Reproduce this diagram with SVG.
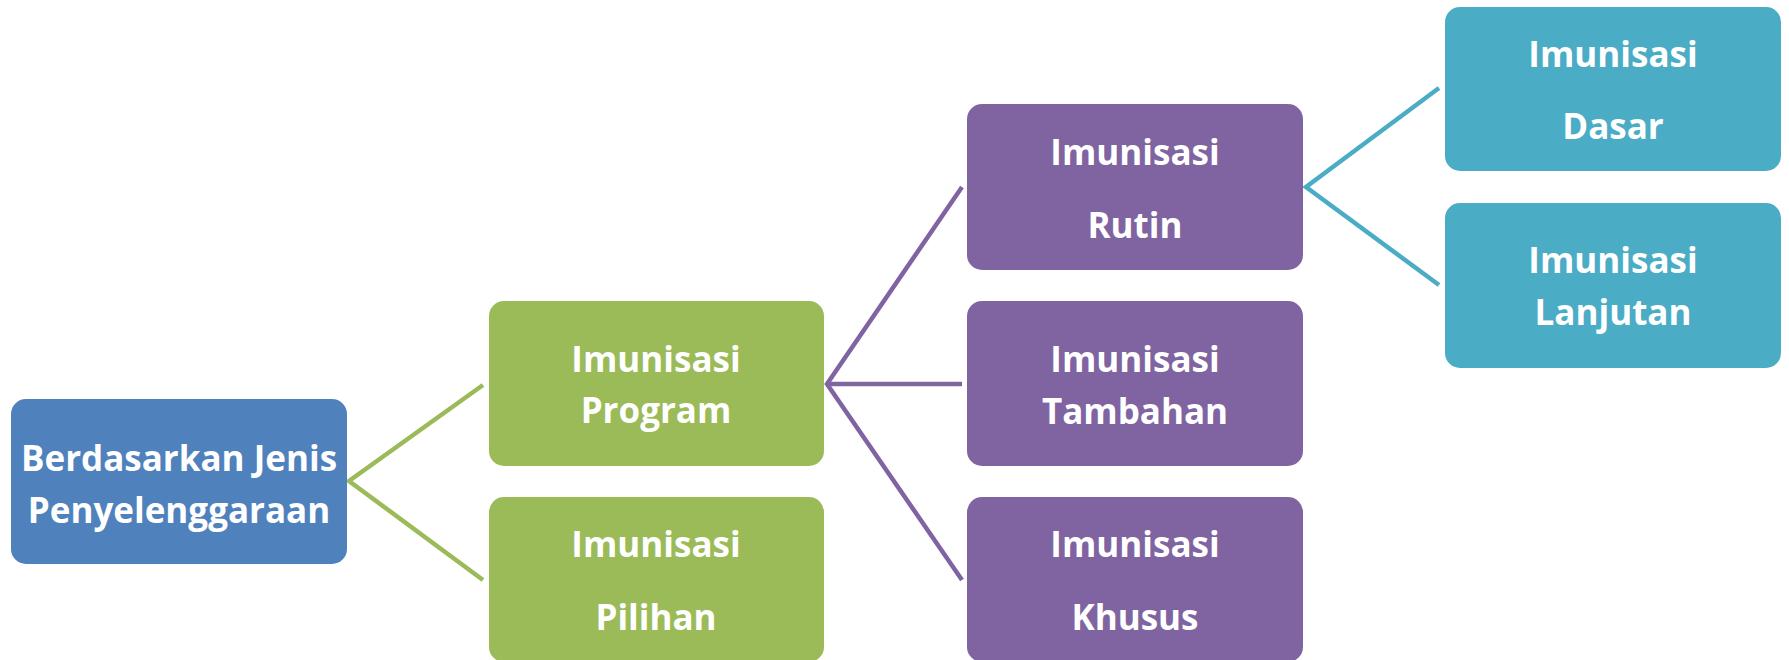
<svg xmlns="http://www.w3.org/2000/svg" width="1789" height="660" viewBox="0 0 1789 660">
<style>
.t{font-family:"Open Sans","Liberation Sans",sans-serif;font-weight:bold;font-size:35px;fill:#fff;text-anchor:middle}
.c{fill:none;stroke-width:4.5;stroke-linejoin:miter}
</style>
<rect width="1789" height="660" fill="#fff"/>
<g id="connectors">
<polyline class="c" stroke="#9BBB59" points="483,385 349,481 483,580"/>
<polyline class="c" stroke="#8064A2" points="962,187 827,384 962,580"/>
<line class="c" stroke="#8064A2" x1="827" y1="384" x2="962" y2="384"/>
<polyline class="c" stroke="#4BACC6" points="1439,88 1306,187 1439,285"/>
</g>
<g id="root">
<rect x="11" y="399" width="336" height="165" rx="15" fill="#4F81BD"/>
<text class="t" x="179" y="471">Berdasarkan Jenis</text>
<text class="t" x="179" y="523">Penyelenggaraan</text>
</g>
<g id="program">
<rect x="489" y="301" width="335" height="165" rx="15" fill="#9BBB59"/>
<text class="t" x="656" y="372">Imunisasi</text>
<text class="t" x="656" y="423">Program</text>
</g>
<g id="pilihan">
<rect x="489" y="497" width="335" height="165" rx="15" fill="#9BBB59"/>
<text class="t" x="656" y="557">Imunisasi</text>
<text class="t" x="656" y="630">Pilihan</text>
</g>
<g id="rutin">
<rect x="967" y="104" width="336" height="166" rx="15" fill="#8064A2"/>
<text class="t" x="1135" y="165">Imunisasi</text>
<text class="t" x="1135" y="238">Rutin</text>
</g>
<g id="tambahan">
<rect x="967" y="301" width="336" height="165" rx="15" fill="#8064A2"/>
<text class="t" x="1135" y="372">Imunisasi</text>
<text class="t" x="1135" y="424">Tambahan</text>
</g>
<g id="khusus">
<rect x="967" y="497" width="336" height="165" rx="15" fill="#8064A2"/>
<text class="t" x="1135" y="557">Imunisasi</text>
<text class="t" x="1135" y="630">Khusus</text>
</g>
<g id="dasar">
<rect x="1445" y="7" width="336" height="164" rx="15" fill="#4BACC6"/>
<text class="t" x="1613" y="67">Imunisasi</text>
<text class="t" x="1613" y="139">Dasar</text>
</g>
<g id="lanjutan">
<rect x="1445" y="203" width="336" height="165" rx="15" fill="#4BACC6"/>
<text class="t" x="1613" y="273">Imunisasi</text>
<text class="t" x="1613" y="325">Lanjutan</text>
</g>
</svg>
